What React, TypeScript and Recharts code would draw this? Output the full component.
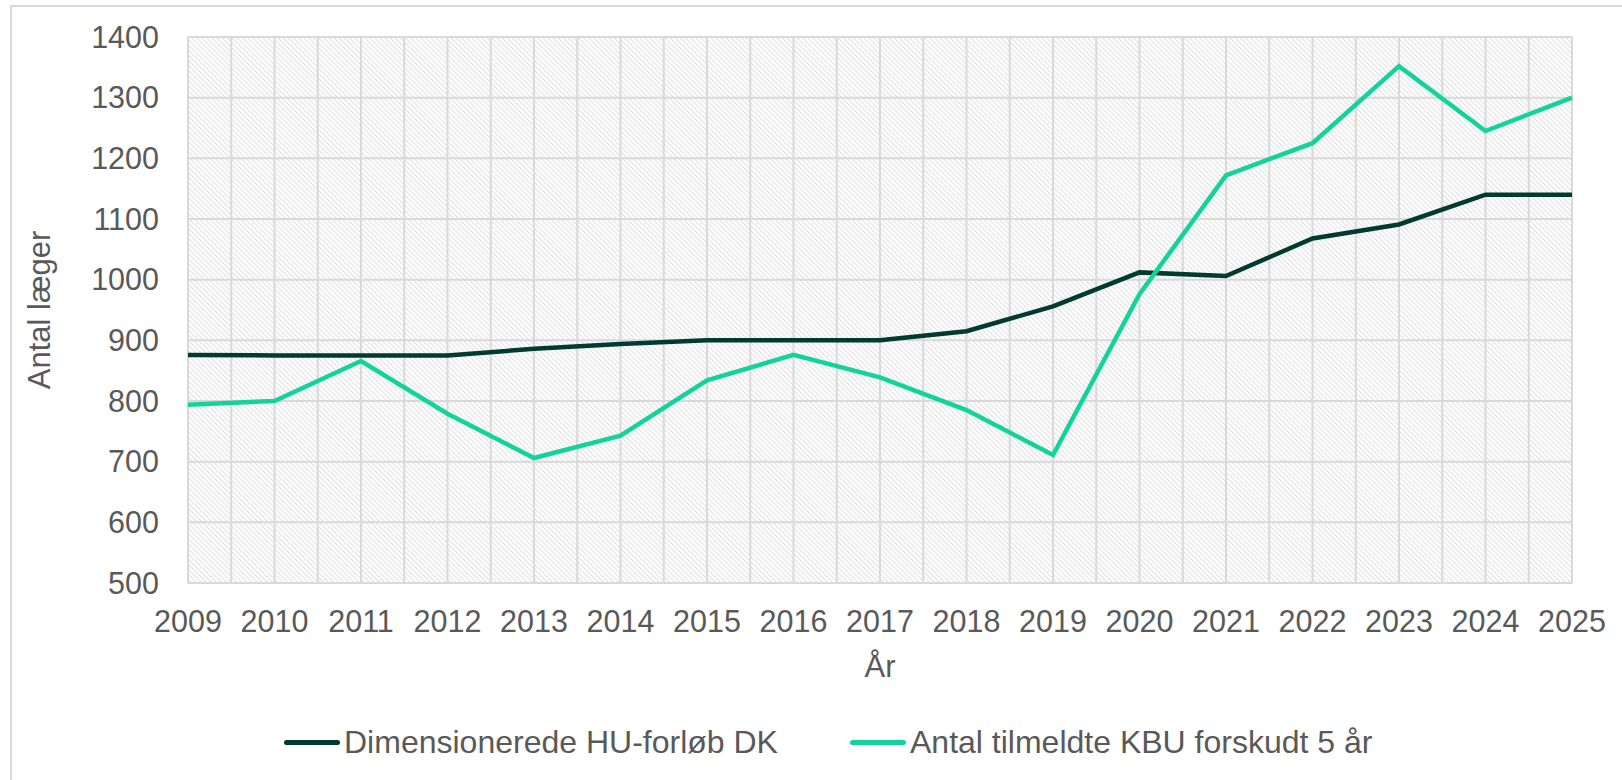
import { LineChart, Line, XAxis, YAxis, CartesianGrid } from 'recharts'

const years = [2009, 2010, 2011, 2012, 2013, 2014, 2015, 2016, 2017, 2018, 2019, 2020, 2021, 2022, 2023, 2024, 2025]
const dimensionerede = [876, 875, 875, 875, 886, 894, 900, 900, 900, 915, 956, 1012, 1006, 1068, 1091, 1140, 1140]
const tilmeldte = [794, 800, 866, 779, 706, 743, 834, 876, 839, 785, 711, 976, 1172, 1225, 1352, 1245, 1300]
const yTicks = [500, 600, 700, 800, 900, 1000, 1100, 1200, 1300, 1400]

const seriesNames = ['Dimensionerede HU-forløb DK', 'Antal tilmeldte KBU forskudt 5 år']
const seriesColors = ['#003b2e', '#12d49b']

// half-year steps so the vertical grid gets a line between every year
const xGridTicks = years.flatMap((y, i) => (i < years.length - 1 ? [y, y + 0.5] : [y]))

const data = years.map((year, i) => ({
  year,
  dim: dimensionerede[i],
  kbu: tilmeldte[i],
}))

const FONT = '"Liberation Sans", Arial, sans-serif'
const TEXT = '#595959'

function LegendItem({ name, color, left }: { name: string; color: string; left: number }) {
  return (
    <div
      style={{
        position: 'absolute',
        left,
        top: 724,
        height: 36,
        display: 'flex',
        alignItems: 'center',
        whiteSpace: 'nowrap',
      }}
    >
      <span
        style={{
          display: 'inline-block',
          width: 56,
          height: 5,
          borderRadius: 3,
          background: color,
          marginRight: 4,
        }}
      />
      <span style={{ fontSize: 32, lineHeight: '36px', color: TEXT }}>{name}</span>
    </div>
  )
}

export default function App() {
  return (
    <div
      style={{
        position: 'absolute',
        left: 0,
        top: 0,
        width: 1622,
        height: 780,
        overflow: 'hidden',
        background: '#fff',
        fontFamily: FONT,
      }}
    >
      <div
        style={{
          position: 'absolute',
          left: 10,
          top: 5,
          width: 1640,
          height: 800,
          borderTop: '2px solid #d9d9d9',
          borderLeft: '2px solid #d9d9d9',
        }}
      />
      <LineChart
        width={1622}
        height={780}
        data={data}
        margin={{ top: 37, right: 50, bottom: 98, left: 10 }}
        style={{ fontFamily: FONT }}
      >
        <defs>
          <pattern
            id="hatch"
            width="3.6"
            height="3.6"
            patternUnits="userSpaceOnUse"
            patternTransform="rotate(-45)"
          >
            <rect width="3.6" height="3.6" fill="#ffffff" />
            <line x1="0.6" y1="0" x2="0.6" y2="3.6" stroke="#dedede" strokeWidth="1" />
          </pattern>
        </defs>
        <CartesianGrid stroke="#d9d9d9" strokeWidth={2} fill="url(#hatch)" fillOpacity={1} />
        <XAxis
          dataKey="year"
          type="number"
          domain={[2009, 2025]}
          ticks={xGridTicks}
          interval={0}
          tickFormatter={(v: number) => (Number.isInteger(v) ? String(v) : '')}
          axisLine={false}
          tickLine={false}
          tickMargin={21}
          height={99}
          tick={{ fill: TEXT, fontSize: 30.5 }}
          label={{ value: 'År', position: 'insideBottom', offset: 5, fill: TEXT, fontSize: 31 }}
        />
        <YAxis
          domain={[500, 1400]}
          ticks={yTicks}
          interval={0}
          axisLine={false}
          tickLine={false}
          tickMargin={23}
          width={178}
          tick={{ fill: TEXT, fontSize: 30.5 }}
          label={{
            value: 'Antal læger',
            angle: -90,
            position: 'insideLeft',
            offset: 29,
            fill: TEXT,
            fontSize: 31,
            style: { textAnchor: 'middle' },
          }}
        />
        <Line
          type="linear"
          dataKey="dim"
          name={seriesNames[0]}
          stroke={seriesColors[0]}
          strokeWidth={4.5}
          dot={false}
          isAnimationActive={false}
        />
        <Line
          type="linear"
          dataKey="kbu"
          name={seriesNames[1]}
          stroke={seriesColors[1]}
          strokeWidth={4.5}
          dot={false}
          isAnimationActive={false}
        />
      </LineChart>
      <LegendItem name={seriesNames[0]} color={seriesColors[0]} left={284} />
      <LegendItem name={seriesNames[1]} color={seriesColors[1]} left={850} />
    </div>
  )
}
